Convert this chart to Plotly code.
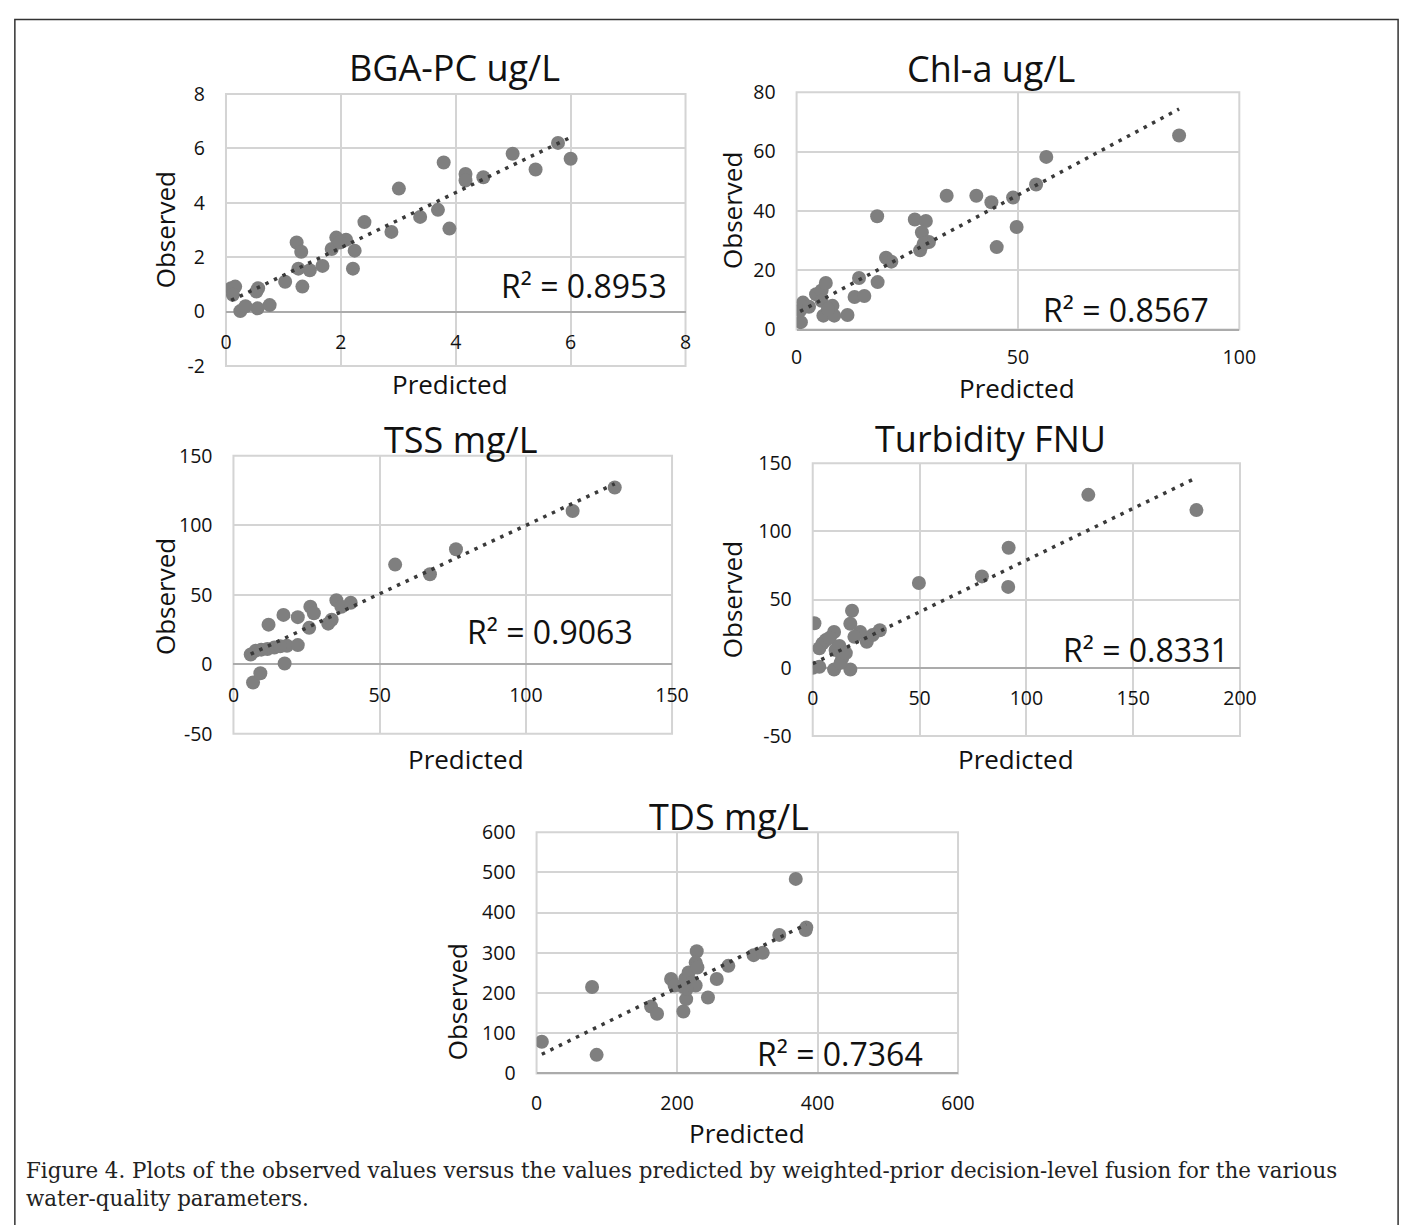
import plotly.graph_objects as go

W, H = 1421, 1225

# ---------------- data ----------------
bga_predicted = [0.09, 0.16, 0.12, 0.25, 0.34, 0.55, 0.53, 0.56, 0.76, 1.03,
                 1.23, 1.31, 1.26, 1.33, 1.46, 1.68, 1.84, 1.92, 2.09, 1.98,
                 2.24, 2.21, 2.41, 2.88, 3.01, 3.38, 3.69, 3.79, 3.89, 4.17,
                 4.17, 4.48, 4.99, 5.39, 5.78, 6.00]
bga_observed = [0.86, 0.92, 0.62, 0.02, 0.20, 0.12, 0.74, 0.86, 0.24, 1.10,
                2.54, 2.20, 1.58, 0.92, 1.52, 1.68, 2.30, 2.72, 2.64, 2.54,
                2.24, 1.58, 3.29, 2.93, 4.52, 3.48, 3.74, 5.48, 3.05, 5.06,
                4.82, 4.94, 5.80, 5.22, 6.20, 5.62]
bga_trend = [1.014, 0.32]          # slope, intercept
bga_xticks = [0, 2, 4, 6, 8]
bga_yticks = [-2, 0, 2, 4, 6, 8]

chl_predicted = [0.97, 0.8, 1.45, 2.8, 4.4, 5.65, 6.6, 5.65, 6.05, 8.1,
                 8.5, 7.1, 11.5, 13.1, 14.1, 15.3, 18.3, 18.2, 20.2, 21.4,
                 26.7, 27.9, 29.2, 28.3, 29.9, 28.7, 33.9, 40.6, 44.0, 45.2,
                 48.9, 49.7, 54.1, 56.4, 86.4]
chl_observed = [2.5, 6.4, 9.1, 7.7, 11.9, 13.2, 15.7, 9.7, 4.7, 8.0,
                4.7, 6.9, 4.9, 11.0, 17.4, 11.3, 16.0, 38.2, 24.2, 22.9,
                37.1, 26.7, 36.6, 32.7, 29.5, 28.9, 45.1, 45.1, 42.9, 27.8,
                44.5, 34.6, 48.9, 58.2, 65.4]
chl_trend = [0.797, 5.5]
chl_xticks = [0, 50, 100]
chl_yticks = [0, 20, 40, 60, 80]

tss_predicted = [5.9, 7.6, 6.7, 9.2, 12.0, 11.6, 14.0, 17.1, 17.5, 18.3,
                 22.0, 22.0, 26.3, 27.5, 25.9, 32.4, 33.6, 35.2, 36.9, 40.1,
                 55.3, 67.2, 76.1, 116.0, 130.4, 9.5, 16.0]
tss_observed = [7.0, 9.8, -13.1, -6.5, 28.5, 11.0, 12.1, 35.5, 0.5, 13.3,
                33.9, 13.8, 41.4, 36.7, 26.2, 29.2, 32.0, 46.0, 41.4, 44.2,
                71.7, 64.7, 82.7, 110.3, 127.1, 10.5, 13.0]
tss_trend = [0.984, 1.5]
tss_xticks = [0, 50, 100, 150]
tss_yticks = [-50, 0, 50, 100, 150]

turb_predicted = [0.8, 0, 3.1, 4.6, 3.1, 10.0, 6.1, 10.7, 10.0, 17.6,
                  18.4, 17.6, 22.2, 25.3, 31.4, 13.8, 13.0, 8.0, 12.5, 15.5,
                  19.5, 28.0, 49.7, 79.2, 91.7, 91.5, 129.0, 179.6]
turb_observed = [32.7, 0, 0.7, 17.9, 14.3, 26.2, 20.3, 13.1, -1.2, -1.2,
                 41.8, 32.3, 26.2, 19.1, 27.5, 7.2, 3.6, 22.0, 16.0, 10.8,
                 22.7, 24.0, 62.2, 67.0, 88.0, 59.3, 126.8, 115.6]
turb_trend = [0.759, 3.0]
turb_xticks = [0, 50, 100, 150, 200]
turb_yticks = [-50, 0, 50, 100, 150]

tds_predicted = [7.5, 79, 85.5, 163, 171.5, 191.5, 196.5, 209, 213, 211.5,
                 216.5, 221.5, 228, 226.5, 229, 226.5, 244, 256.5, 273, 309,
                 322, 345.5, 369, 384, 383, 214, 209]
tds_observed = [78.7, 214.9, 46.2, 166.2, 148.4, 235.1, 218.9, 154.1, 184.9, 235.1,
                251.4, 227, 304, 275.7, 263.5, 218.9, 188.9, 235.1, 267.6, 294.3,
                300, 344.6, 484, 363.2, 356.8, 210.8, 215]
tds_trend = [0.8586, 41.2]
tds_xticks = [0, 200, 400, 600]
tds_yticks = [0, 100, 200, 300, 400, 500, 600]

titles = ["BGA-PC ug/L", "Chl-a ug/L", "TSS mg/L", "Turbidity FNU", "TDS mg/L"]
r2_labels = ["R² = 0.8953", "R² = 0.8567", "R² = 0.9063", "R² = 0.8331", "R² = 0.7364"]
caption_lines = [
    "Figure 4. Plots of the observed values versus the values predicted by weighted-prior decision-level fusion for the various",
    "water-quality parameters.",
]

# ---------------- layout helpers ----------------
def fx(px):
    return px / W


def fy(py):
    return 1 - py / H


panels = [
    dict(pred=bga_predicted, obs=bga_observed, trend=bga_trend, xt=bga_xticks, yt=bga_yticks,
         dom=(223.6, 690.7, 81.7, 360.0), title_pos=(456, 55), r2_pos=(588, 278),
         obs_pos=(161.8, 221), pred_pos=(451.7, 378.3), xstand=17),
    dict(pred=chl_predicted, obs=chl_observed, trend=chl_trend, xt=chl_xticks, yt=chl_yticks,
         dom=(803.6, 1253.6, 80.0, 322.7), title_pos=(1001, 56), r2_pos=(1138, 301.7),
         obs_pos=(737.3, 201), pred_pos=(1028, 382), xstand=14),
    dict(pred=tss_predicted, obs=tss_observed, trend=tss_trend, xt=tss_xticks, yt=tss_yticks,
         dom=(231.2, 677.0, 451.7, 736.0), title_pos=(462.5, 435), r2_pos=(553, 631.7),
         obs_pos=(161.8, 596), pred_pos=(467.6, 761.7), xstand=17),
    dict(pred=turb_predicted, obs=turb_observed, trend=turb_trend, xt=turb_xticks, yt=turb_yticks,
         dom=(820.0, 1254.3, 459.3, 738.3), title_pos=(1000.8, 434), r2_pos=(1159, 650),
         obs_pos=(737.3, 599), pred_pos=(1026.7, 761.7), xstand=17),
    dict(pred=tds_predicted, obs=tds_observed, trend=tds_trend, xt=tds_xticks, yt=tds_yticks,
         dom=(539.3, 967.7, 836.7, 1083.3), title_pos=(735, 821), r2_pos=(848, 1063.3),
         obs_pos=(458, 1010), pred_pos=(753.5, 1144), xstand=16),
]

FONT = "Open Sans"
GRID = "#d4d4d4"
MARKER = "#7f7f7f"
TEXT = "#111111"

fig = go.Figure()
annotations = []
shapes = []
layout_axes = {}

for i, p in enumerate(panels, start=1):
    xs = "x" if i == 1 else f"x{i}"
    ys = "y" if i == 1 else f"y{i}"
    xkey = "xaxis" if i == 1 else f"xaxis{i}"
    ykey = "yaxis" if i == 1 else f"yaxis{i}"

    # scatter points
    fig.add_trace(go.Scatter(
        x=p["pred"], y=p["obs"], mode="markers", xaxis=xs, yaxis=ys,
        marker=dict(size=14, color=MARKER, line=dict(width=0)),
        hoverinfo="x+y", showlegend=False,
    ))
    # linear trend line
    slope, icpt = p["trend"]
    tx = [min(p["pred"]), max(p["pred"])]
    ty = [slope * v + icpt for v in tx]
    fig.add_trace(go.Scatter(
        x=tx, y=ty, mode="lines", xaxis=xs, yaxis=ys,
        line=dict(color="#3a3a3a", width=3.5, dash="3.5px,6px"),
        hoverinfo="skip", showlegend=False,
    ))

    x0, x1, y0, y1 = p["dom"]
    xr = [p["xt"][0], p["xt"][-1]]
    yr = [p["yt"][0], p["yt"][-1]]
    ydom = [fy(y1), fy(y0)]
    xaxis = dict(
        domain=[fx(x0), fx(x1)], range=xr,
        tickmode="array", tickvals=p["xt"], ticktext=[str(v) for v in p["xt"]],
        showgrid=True, gridcolor=GRID, gridwidth=2,
        zeroline=False, showline=False, ticks="",
        tickfont=dict(family=FONT, size=19.5, color=TEXT),
        ticklabelstandoff=p["xstand"], fixedrange=True,
    )
    if yr[0] < 0:
        pos = ydom[0] + (0 - yr[0]) / (yr[1] - yr[0]) * (ydom[1] - ydom[0])
        xaxis.update(anchor="free", position=pos)
    else:
        xaxis.update(anchor=ys)
    yaxis = dict(
        domain=ydom, range=yr, anchor=xs,
        tickmode="array", tickvals=p["yt"], ticktext=[str(v) for v in p["yt"]],
        showgrid=True, gridcolor=GRID, gridwidth=2,
        zeroline=True, zerolinecolor="#ababab", zerolinewidth=2,
        showline=False, ticks="",
        tickfont=dict(family=FONT, size=19.5, color=TEXT),
        ticklabelstandoff=20, fixedrange=True,
    )
    layout_axes[xkey] = xaxis
    layout_axes[ykey] = yaxis

    # plot-area frame
    shapes.append(dict(type="rect", xref=f"{xs} domain", yref=f"{ys} domain",
                       x0=0, x1=1, y0=0, y1=1, layer="below",
                       line=dict(color=GRID, width=2)))

    tpx, tpy = p["title_pos"]
    annotations.append(dict(text=titles[i - 1], x=fx(tpx), y=fy(tpy), xref="paper", yref="paper",
                            xanchor="center", yanchor="middle", showarrow=False,
                            font=dict(family=FONT, size=36, color=TEXT)))
    rpx, rpy = p["r2_pos"]
    annotations.append(dict(text=r2_labels[i - 1], x=fx(rpx), y=fy(rpy), xref="paper", yref="paper",
                            xanchor="center", yanchor="middle", showarrow=False,
                            font=dict(family=FONT, size=32, color=TEXT)))
    opx, opy = p["obs_pos"]
    annotations.append(dict(text="Observed", x=fx(opx), y=fy(opy), xref="paper", yref="paper",
                            xanchor="center", yanchor="middle", showarrow=False, textangle=-90,
                            font=dict(family=FONT, size=26, color=TEXT)))
    ppx, ppy = p["pred_pos"]
    annotations.append(dict(text="Predicted", x=fx(ppx), y=fy(ppy), xref="paper", yref="paper",
                            xanchor="center", yanchor="middle", showarrow=False,
                            font=dict(family=FONT, size=26, color=TEXT)))

# caption
for line, cy in zip(caption_lines, [1183, 1211]):
    annotations.append(dict(text=line, x=fx(18), y=fy(cy), xref="paper", yref="paper",
                            xanchor="left", yanchor="middle", showarrow=False,
                            font=dict(family="DejaVu Serif", size=21.4, color="#222222")))

# outer frame
shapes.append(dict(type="rect", xref="paper", yref="paper",
                   x0=fx(9), x1=fx(1415), y0=fy(1260), y1=fy(5.7),
                   line=dict(color="#333333", width=1.5)))

fig.update_layout(
    width=W, height=H,
    margin=dict(l=0, r=0, t=0, b=0),
    paper_bgcolor="white", plot_bgcolor="white",
    showlegend=False,
    annotations=annotations, shapes=shapes,
    **layout_axes,
)

fig.write_html("out.html",
               config={"displayModeBar": False},
               post_script="document.body.style.margin='0';document.body.style.overflow='hidden';")
